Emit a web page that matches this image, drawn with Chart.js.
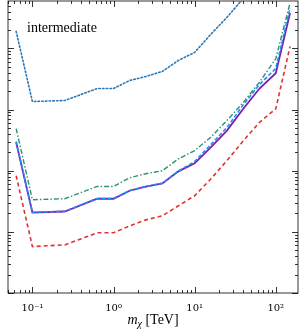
<!DOCTYPE html>
<html>
<head>
<meta charset="utf-8">
<script src="https://cdn.jsdelivr.net/npm/chart.js@4/dist/chart.umd.min.js"></script>
<style>
  html, body { margin: 0; padding: 0; background: #fff; }
  #wrap { width: 300px; height: 332px; position: relative; }
</style>
</head>
<body>
<div id="wrap"><canvas id="limits"></canvas></div>
<script>
// masses in TeV
const masses = [0.063, 0.1, 0.25, 0.63, 1, 1.58, 2.5, 4, 6.3, 10, 15.8, 25, 40, 63, 100, 150];
// limits (arbitrary units, y axis has no labels)
const dotted   = [19010, 1352, 1406, 2208, 2208, 2985, 3475, 4198, 6353, 8590, 16980, 32210, 66070];
const dashdot  = [489, 33.5, 34.8, 55.3, 55.3, 76.7, 89.3, 100, 156, 213, 352, 661, 1318, 2805, 6776, 55340];
const dashed   = [300, 20.9, 21.7, 35.2, 35.2, 47.5, 55.3, 62.5, 98.5, 141, 267, 507, 1208, 2570, 4699, 45290];
const solid    = [291, 20.7, 21.5, 34.8, 34.8, 47.0, 54.7, 61.9, 97.5, 132, 241, 453, 1038, 2208, 3936, 37930];
const lower    = [82.8, 5.74, 6.12, 9.64, 9.64, 12.5, 15.7, 18.3, 26.7, 38.9, 73.1, 146, 310, 619, 1026, 10790];
const xTickLabels = { '-1': '10\u207B\u00B9', '0': '10\u2070', '1': '10\u00B9', '2': '10\u00B2' };

const pts = arr => arr.map((v, i) => ({ x: masses[i], y: v }));

// inward ticks on all four sides, frame, axis title
const frame = {
  id: 'frame',
  afterDraw(chart) {
    const { ctx, chartArea: a, scales: { x, y } } = chart;
    ctx.save();
    ctx.strokeStyle = '#000';
    ctx.lineWidth = 0.8;
    ctx.strokeRect(a.left, a.top, a.right - a.left, a.bottom - a.top);
    ctx.beginPath();
    for (let d = -2; d <= 3; d++) {
      for (let m = 1; m <= 9; m++) {
        const v = m * Math.pow(10, d);
        if (v < x.min || v > x.max) continue;
        const px = Math.round(x.getPixelForValue(v)) + 0.5;
        const len = m === 1 ? 6 : 3;
        ctx.moveTo(px, a.bottom); ctx.lineTo(px, a.bottom - len);
        ctx.moveTo(px, a.top); ctx.lineTo(px, a.top + len);
      }
    }
    for (let d = -1; d <= 6; d++) {
      for (let m = 1; m <= 9; m++) {
        const v = m * Math.pow(10, d);
        if (v < y.min || v > y.max) continue;
        const py = Math.round(y.getPixelForValue(v)) + 0.5;
        const len = m === 1 ? 6 : 3;
        ctx.moveTo(a.left, py); ctx.lineTo(a.left + len, py);
        ctx.moveTo(a.right, py); ctx.lineTo(a.right - len, py);
      }
    }
    ctx.stroke();

    // x axis title: m_chi [TeV]
    const cx = (a.left + a.right) / 2, by = 324;
    ctx.fillStyle = '#000';
    ctx.textBaseline = 'alphabetic';
    const f1 = 'italic 14px "Liberation Serif"', f2 = 'italic 10px "Liberation Serif"', f3 = '14px "Liberation Serif"';
    ctx.font = f1; const w1 = ctx.measureText('m').width;
    ctx.font = f2; const w2 = ctx.measureText('\u03C7').width;
    ctx.font = f3; const w3 = ctx.measureText(' [TeV]').width;
    let sx = cx - (w1 + w2 + w3) / 2;
    ctx.font = f1; ctx.fillText('m', sx, by); sx += w1;
    ctx.font = f2; ctx.fillText('\u03C7', sx, by + 3); sx += w2;
    ctx.font = f3; ctx.fillText(' [TeV]', sx, by);

    // label
    ctx.font = '14px "Liberation Serif"';
    ctx.fillText('intermediate', 27, 32);
    ctx.restore();
  }
};

const ctx = document.getElementById('limits').getContext('2d');
new Chart(ctx, {
  type: 'line',
  data: {
    datasets: [
      { label: 'dotted', data: pts(dotted), borderColor: '#2a78b8', borderWidth: 1.6, borderDash: [1.5, 2.2], borderCapStyle: 'round' },
      { label: 'dashdot', data: pts(dashdot), borderColor: '#2b9470', borderWidth: 1.4, borderDash: [5, 2, 1.5, 2] },
      { label: 'dashed', data: pts(dashed), borderColor: '#1e8fff', borderWidth: 1.6, borderDash: [4, 2] },
      { label: 'solid', data: pts(solid), borderColor: '#7d1fa6', borderWidth: 1.8 },
      { label: 'lower', data: pts(lower), borderColor: '#e03232', borderWidth: 1.6, borderDash: [4, 3] }
    ]
  },
  options: {
    responsive: true,
    maintainAspectRatio: false,
    animation: false,
    events: [],
    layout: { padding: { left: 8, right: 2, top: 1, bottom: 0 } },
    elements: { point: { radius: 0 }, line: { tension: 0, fill: false } },
    plugins: { legend: { display: false }, tooltip: { enabled: false } },
    scales: {
      x: {
        type: 'logarithmic',
        min: 0.05, max: 188,
        grid: { display: false },
        border: { display: false },
        afterFit(scale) { scale.height = 39; },
        ticks: {
          autoSkip: false, maxRotation: 0, padding: 1,
          color: '#000',
          font: { family: '"DejaVu Serif"', size: 10 },
          callback(v) {
            const e = Math.log10(v);
            return Math.abs(e - Math.round(e)) < 1e-9 ? (xTickLabels[String(Math.round(e))] || '') : '';
          }
        }
      },
      y: {
        type: 'logarithmic',
        min: 1, max: Math.pow(10, 4.775),
        grid: { display: false },
        border: { display: false },
        afterFit(scale) { scale.width = 0; },
        ticks: { display: false }
      }
    }
  },
  plugins: [frame]
});
</script>
</body>
</html>
